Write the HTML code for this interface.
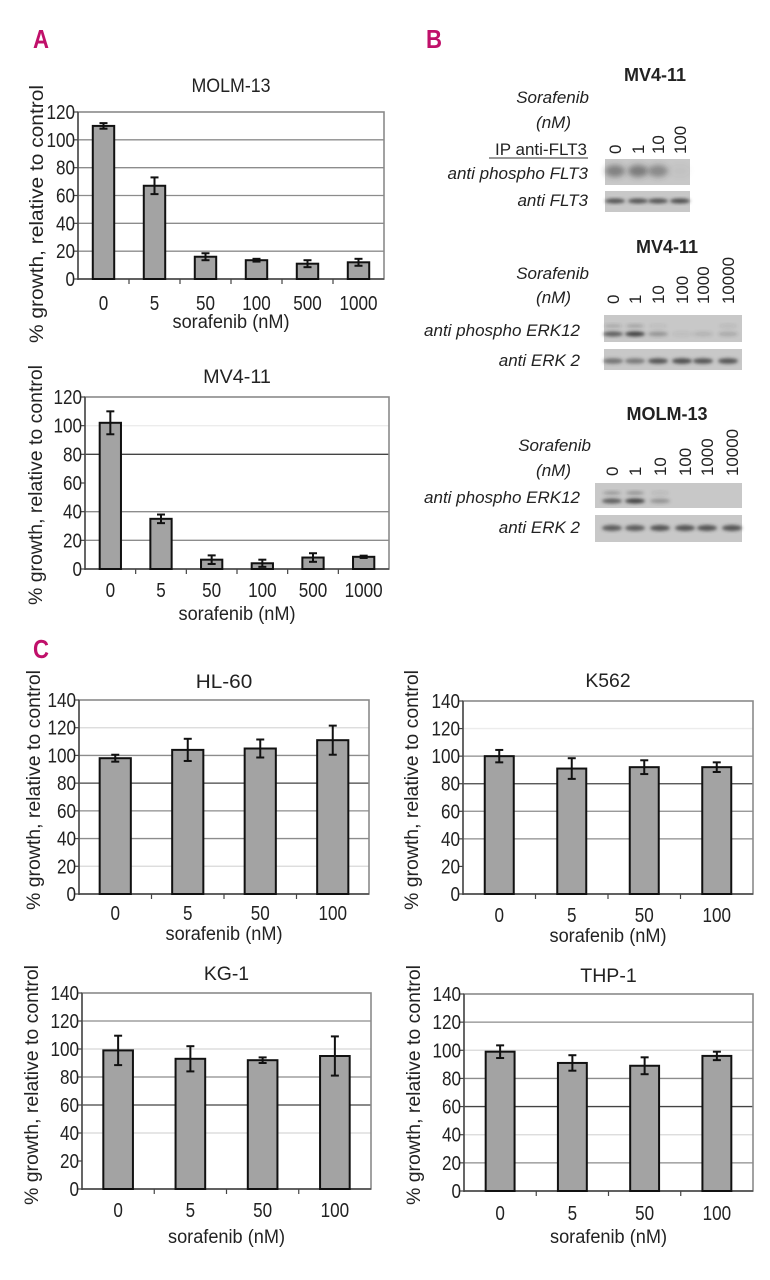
<!DOCTYPE html>
<html><head><meta charset="utf-8">
<style>
html,body{margin:0;padding:0;background:#fff;}
svg{display:block;}
text{font-family:"Liberation Sans",sans-serif;fill:#222;}
.pl{font-weight:bold;fill:#c0106a;font-size:26px;}
.it{font-style:italic;font-size:17px;}
.bt{font-weight:bold;font-size:18px;}
</style></head>
<body>
<svg id="fig" width="770" height="1280" viewBox="0 0 770 1280" xmlns="http://www.w3.org/2000/svg">
<defs><filter id="blur" x="-50%" y="-50%" width="200%" height="200%"><feGaussianBlur stdDeviation="1.6"/></filter>
<filter id="blur2" x="-50%" y="-50%" width="200%" height="200%"><feGaussianBlur stdDeviation="3"/></filter></defs>
<text class="pl" x="33" y="48" textLength="16" lengthAdjust="spacingAndGlyphs">A</text>
<text class="pl" x="426" y="48" textLength="16" lengthAdjust="spacingAndGlyphs">B</text>
<text class="pl" x="33" y="658" textLength="16" lengthAdjust="spacingAndGlyphs">C</text>
<g id="charts"></g>
<g id="blots"></g>
</svg>
<script>
// ---- chart data ----
const catsA = ["0","5","50","100","500","1000"];
const catsC = ["0","5","50","100"];
const molm13Vals = [110, 67, 16, 13.5, 11, 12];
const molm13Err = [2, 6, 2.5, 1, 2.5, 2.5];
const mv411Vals = [102, 35, 6.5, 4, 8, 8.5];
const mv411Err = [8, 3, 3, 2.5, 3, 0.8];
const hl60Vals = [98, 104, 105, 111];
const hl60Err = [2.5, 8, 6.5, 10.5];
const k562Vals = [100, 91, 92, 92];
const k562Err = [4.5, 7.5, 5, 3.5];
const kg1Vals = [99, 93, 92, 95];
const kg1Err = [10.5, 9, 2, 14];
const thp1Vals = [99, 91, 89, 96];
const thp1Err = [4.5, 5.5, 6, 3];
const ticksA = [0,20,40,60,80,100,120];
const ticksC = [0,20,40,60,80,100,120,140];

const NS = "http://www.w3.org/2000/svg";
function mk(tag, attrs, parent){const e=document.createElementNS(NS,tag);for(const k in attrs)e.setAttribute(k,attrs[k]);parent.appendChild(e);return e;}

function chart(cfg){
  const root=document.getElementById('charts');
  const g=mk('g',{},root);
  
  
  const L=cfg.l,R=cfg.r,T=cfg.t,B=cfg.b,max=cfg.max;
  const y=v=>B-(v/max)*(B-T);
  const n=cfg.cats.length, cw=(R-L)/n;
  const x=i=>L+cw*(i+0.5);
  cfg.ticks.forEach((tk,i)=>{
    if(tk===0||tk===max) return;
    const col=cfg.grid[i]; if(!col) return;
    const ln=mk('line',{x1:L,x2:R,y1:y(tk),y2:y(tk),stroke:col,'stroke-width':1.3},g);
    
    
  });
  const fr=mk('rect',{x:L,y:T,width:R-L,height:B-T,fill:'none',stroke:'#8a8a8a','stroke-width':1.6},g);
  
  
  const ya=mk('line',{x1:L,x2:L,y1:T,y2:B+1,stroke:'#444','stroke-width':1.4},g);
  
  
  const xa=mk('line',{x1:L,x2:R,y1:B,y2:B,stroke:'#444','stroke-width':1.4},g);
  
  
  cfg.ticks.forEach(tk=>{
    const tm=mk('line',{x1:L-4,x2:L,y1:y(tk),y2:y(tk),stroke:'#444','stroke-width':1.2},g);
    
    
    const s=String(tk);
    const t=mk('text',{x:L-3,y:y(tk)+7,'text-anchor':'end','font-size':20,textLength:s.length*9.5,lengthAdjust:'spacingAndGlyphs'},g);
    t.textContent=s;
    
    
  });
  for(let i=1;i<n;i++){
    const tm=mk('line',{x1:L+cw*i,x2:L+cw*i,y1:B,y2:B+5,stroke:'#444','stroke-width':1.2},g);
    
    
  }
  cfg.cats.forEach((c,i)=>{
    const t=mk('text',{x:x(i),y:cfg.xly,'text-anchor':'middle','font-size':20,textLength:c.length*9.5,lengthAdjust:'spacingAndGlyphs'},g);
    t.textContent=c;
    
    
  });
  const bw=cw*cfg.bwf;
  cfg.vals.forEach((v,i)=>{
    const r=mk('rect',{x:x(i)-bw/2,y:y(v),width:bw,height:B-y(v),fill:'#a3a3a3',stroke:'#111','stroke-width':2},g);
    
    
    const e=cfg.err[i];
    const eg=mk('g',{stroke:'#111','stroke-width':2},g);
    
    
    mk('line',{x1:x(i),x2:x(i),y1:y(v+e),y2:y(v-e)},eg);
    mk('line',{x1:x(i)-4,x2:x(i)+4,y1:y(v+e),y2:y(v+e)},eg);
    mk('line',{x1:x(i)-4,x2:x(i)+4,y1:y(v-e),y2:y(v-e)},eg);
  });
  const tt=mk('text',{x:(L+R)/2,y:cfg.ty,'text-anchor':'middle','font-size':19,textLength:cfg.title.length*11.3,lengthAdjust:'spacingAndGlyphs'},g);
  tt.textContent=cfg.title;
  
  
  const xt=mk('text',{x:(L+R)/2,y:cfg.xty,'text-anchor':'middle','font-size':19,textLength:117,lengthAdjust:'spacingAndGlyphs'},g);
  xt.textContent='sorafenib (nM)';
  
  
  const yt=mk('text',{x:0,y:0,'text-anchor':'middle','font-size':19,textLength:cfg.ytl,lengthAdjust:'spacingAndGlyphs',transform:'translate('+cfg.ytx+','+cfg.ytc+') rotate(-90)'},g);
  yt.textContent='% growth, relative to control';
  
  
}

const G='#8c8c8c', D='#444', Lt='#d8d8d8', F='#ececec';
chart({name:'chart-molm13',title:'MOLM-13',cats:catsA,vals:molm13Vals,err:molm13Err,ticks:ticksA,max:120,l:78,r:384,t:112,b:279,bwf:0.42,grid:[0,G,G,G,G,G,0],ty:92,xly:310,xty:328,ytx:43,ytc:214,ytl:258});
chart({name:'chart-mv411',title:'MV4-11',cats:catsA,vals:mv411Vals,err:mv411Err,ticks:ticksA,max:120,l:85,r:389,t:397,b:569,bwf:0.42,grid:[0,G,G,0,D,F,0],ty:383,xly:597,xty:620,ytx:42,ytc:485,ytl:240});
chart({name:'chart-hl60',title:'HL-60',cats:catsC,vals:hl60Vals,err:hl60Err,ticks:ticksC,max:140,l:79,r:369,t:700,b:894,bwf:0.43,grid:[0,Lt,G,G,D,G,Lt,0],ty:688,xly:920,xty:940,ytx:40,ytc:790,ytl:240});
chart({name:'chart-k562',title:'K562',cats:catsC,vals:k562Vals,err:k562Err,ticks:ticksC,max:140,l:463,r:753,t:701,b:894,bwf:0.4,grid:[0,0,G,G,D,G,F,0],ty:687,xly:922,xty:942,ytx:418,ytc:790,ytl:240});
chart({name:'chart-kg1',title:'KG-1',cats:catsC,vals:kg1Vals,err:kg1Err,ticks:ticksC,max:140,l:82,r:371,t:993,b:1189,bwf:0.41,grid:[0,0,Lt,D,G,Lt,G,0],ty:980,xly:1217,xty:1243,ytx:38,ytc:1085,ytl:240});
chart({name:'chart-thp1',title:'THP-1',cats:catsC,vals:thp1Vals,err:thp1Err,ticks:ticksC,max:140,l:464,r:753,t:994,b:1191,bwf:0.4,grid:[0,G,Lt,D,G,Lt,G,0],ty:982,xly:1220,xty:1243,ytx:420,ytc:1085,ytl:240});

// ---- blots ----
const lanes4 = ["0","1","10","100"];
const lanes6 = ["0","1","10","100","1000","10000"];
const pFlt3 = [0.5,0.55,0.45,0.05];
const flt3 = [0.8,0.8,0.8,0.85];
const pErkMv = [0.75,0.95,0.35,0.08,0.15,0.2];
const pErkMvUp = [0.2,0.25,0.08,0,0,0.1];
const erkMv = [0.6,0.55,0.8,0.85,0.8,0.8];
const pErkMolm = [0.75,0.95,0.35,0.0,0.0,0.0];
const pErkMolmUp = [0.3,0.35,0.1,0,0,0];
const erkMolm = [0.75,0.75,0.8,0.8,0.8,0.8];

function blot(name,x0,x1,y0,y1,lx,vals,bandY,bandH,diffuse,up){
  const root=document.getElementById('blots');
  const g=mk('g',{},root);
  
  
  mk('rect',{x:x0,y:y0,width:x1-x0,height:y1-y0,fill:'#c8c8c8'},g);
  vals.forEach((v,i)=>{
    if(v<=0) return;
    const b=mk('ellipse',{cx:lx[i],cy:bandY,rx:10,ry:bandH,fill:'#3a3a3a','fill-opacity':v,filter:diffuse?'url(#blur2)':'url(#blur)'},g);
    
    
  });
  if(up) up.forEach((v,i)=>{
    if(v<=0) return;
    const b=mk('ellipse',{cx:lx[i],cy:bandY-8,rx:9,ry:2,fill:'#3a3a3a','fill-opacity':v,filter:'url(#blur)'},g);
    
    
  });
}
function lbl(txt,x,y,cls,name,anchor){
  const t=mk('text',{x:x,y:y,class:cls,'text-anchor':anchor||'end'},document.getElementById('blots'));
  t.textContent=txt;
  
  
  return t;
}
function laneLabels(lanes,xs,yb){
  lanes.forEach((l,i)=>{
    const t=mk('text',{x:0,y:0,'font-size':17,'text-anchor':'start',textLength:l.length*9.4,lengthAdjust:'spacingAndGlyphs',transform:'translate('+(xs[i]+6)+','+yb+') rotate(-90)'},document.getElementById('blots'));
    t.textContent=l;
    
    
  });
}
lbl('MV4-11',655,81,'bt','blot-title-mv411-flt3','middle');
lbl('Sorafenib',589,103,'it','sorafenib-label');
lbl('(nM)',571,128,'it','nm-label');
const ip=lbl('IP anti-FLT3',587,155,'','ip-label'); ip.setAttribute('font-size','17');
mk('line',{x1:489,x2:588,y1:158,y2:158,stroke:'#333','stroke-width':1},document.getElementById('blots'));
const lx4=[615,638,658,680];
laneLabels(lanes4,lx4,154);
blot('blot-phospho-flt3',605,690,159,185,lx4,pFlt3,171,6,true);
blot('blot-flt3',605,690,191,212,lx4,flt3,201,2.5,false);
lbl('anti phospho FLT3',588,179,'it','row-label-phospho-flt3');
lbl('anti FLT3',588,206,'it','row-label-flt3');
lbl('MV4-11',667,253,'bt','blot-title-mv411-erk','middle');
lbl('Sorafenib',589,279,'it','sorafenib-label');
lbl('(nM)',571,303,'it','nm-label');
const lx6a=[613,635,658,682,703,728];
laneLabels(lanes6,lx6a,304);
blot('blot-phospho-erk-mv411',604,742,315,342,lx6a,pErkMv,334,2.5,false,pErkMvUp);
blot('blot-erk-mv411',604,742,349,370,lx6a,erkMv,361,2.8,false);
lbl('anti phospho ERK12',580,336,'it','row-label-phospho-erk');
lbl('anti ERK 2',580,366,'it','row-label-erk');
lbl('MOLM-13',667,420,'bt','blot-title-molm13','middle');
lbl('Sorafenib',591,451,'it','sorafenib-label');
lbl('(nM)',571,476,'it','nm-label');
const lx6b=[612,635,660,685,707,732];
laneLabels(lanes6,lx6b,476);
blot('blot-phospho-erk-molm13',595,742,483,508,lx6b,pErkMolm,501,2.5,false,pErkMolmUp);
blot('blot-erk-molm13',595,742,515,542,lx6b,erkMolm,528,3,false);
lbl('anti phospho ERK12',580,503,'it','row-label-phospho-erk');
lbl('anti ERK 2',580,533,'it','row-label-erk');
</script>
</body></html>
